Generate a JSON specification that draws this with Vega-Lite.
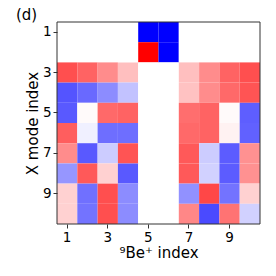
{
  "$schema": "https://vega.github.io/schema/vega-lite/v6.json",
  "autosize": "none",
  "padding": {"left": 57, "top": 22, "right": 16, "bottom": 52},
  "width": 203,
  "height": 202,
  "title": {"text": "(d)", "anchor": "start", "frame": "group", "dx": -41, "offset": -1, "fontSize": 15, "fontWeight": "normal", "font": "DejaVu Sans", "color": "#000"},
  "config": {
    "view": {"stroke": null},
    "font": "DejaVu Sans",
    "axis": {"labelFont": "DejaVu Sans", "titleFont": "DejaVu Sans", "labelFontSize": 13.5, "titleFontSize": 15, "titleFontWeight": "normal", "labelColor": "#000", "titleColor": "#000", "tickColor": "#333", "domain": false, "grid": false, "tickSize": 4, "labelPadding": 2, "labelAngle": 0}
  },
  "data": {"values": [
    {"b":1,"m":1,"v":0},{"b":2,"m":1,"v":0},{"b":3,"m":1,"v":0},{"b":4,"m":1,"v":0},{"b":5,"m":1,"v":-1},{"b":6,"m":1,"v":-1},{"b":7,"m":1,"v":0},{"b":8,"m":1,"v":0},{"b":9,"m":1,"v":0},{"b":10,"m":1,"v":0},
    {"b":1,"m":2,"v":0},{"b":2,"m":2,"v":0},{"b":3,"m":2,"v":0},{"b":4,"m":2,"v":0},{"b":5,"m":2,"v":1},{"b":6,"m":2,"v":-1},{"b":7,"m":2,"v":0},{"b":8,"m":2,"v":0},{"b":9,"m":2,"v":0},{"b":10,"m":2,"v":0},
    {"b":1,"m":3,"v":0.69},{"b":2,"m":3,"v":0.61},{"b":3,"m":3,"v":0.45},{"b":4,"m":3,"v":0.25},{"b":5,"m":3,"v":0},{"b":6,"m":3,"v":0},{"b":7,"m":3,"v":0.25},{"b":8,"m":3,"v":0.45},{"b":9,"m":3,"v":0.61},{"b":10,"m":3,"v":0.69},
    {"b":1,"m":4,"v":-0.67},{"b":2,"m":4,"v":-0.59},{"b":3,"m":4,"v":-0.45},{"b":4,"m":4,"v":-0.24},{"b":5,"m":4,"v":0},{"b":6,"m":4,"v":0},{"b":7,"m":4,"v":0.24},{"b":8,"m":4,"v":0.45},{"b":9,"m":4,"v":0.59},{"b":10,"m":4,"v":0.67},
    {"b":1,"m":5,"v":-0.65},{"b":2,"m":5,"v":0.02},{"b":3,"m":5,"v":0.59},{"b":4,"m":5,"v":0.61},{"b":5,"m":5,"v":0},{"b":6,"m":5,"v":0},{"b":7,"m":5,"v":0.57},{"b":8,"m":5,"v":0.61},{"b":9,"m":5,"v":0.02},{"b":10,"m":5,"v":-0.63},
    {"b":1,"m":6,"v":0.63},{"b":2,"m":6,"v":-0.06},{"b":3,"m":6,"v":-0.57},{"b":4,"m":6,"v":-0.57},{"b":5,"m":6,"v":0},{"b":6,"m":6,"v":0},{"b":7,"m":6,"v":0.59},{"b":8,"m":6,"v":0.61},{"b":9,"m":6,"v":0.05},{"b":10,"m":6,"v":-0.62},
    {"b":1,"m":7,"v":0.45},{"b":2,"m":7,"v":-0.65},{"b":3,"m":7,"v":-0.2},{"b":4,"m":7,"v":0.67},{"b":5,"m":7,"v":0},{"b":6,"m":7,"v":0},{"b":7,"m":7,"v":0.65},{"b":8,"m":7,"v":-0.2},{"b":9,"m":7,"v":-0.64},{"b":10,"m":7,"v":0.43},
    {"b":1,"m":8,"v":-0.41},{"b":2,"m":8,"v":0.65},{"b":3,"m":8,"v":0.18},{"b":4,"m":8,"v":-0.65},{"b":5,"m":8,"v":0},{"b":6,"m":8,"v":0},{"b":7,"m":8,"v":0.65},{"b":8,"m":8,"v":-0.18},{"b":9,"m":8,"v":-0.64},{"b":10,"m":8,"v":0.43},
    {"b":1,"m":9,"v":0.18},{"b":2,"m":9,"v":-0.56},{"b":3,"m":9,"v":0.69},{"b":4,"m":9,"v":-0.45},{"b":5,"m":9,"v":0},{"b":6,"m":9,"v":0},{"b":7,"m":9,"v":-0.43},{"b":8,"m":9,"v":0.72},{"b":9,"m":9,"v":-0.55},{"b":10,"m":9,"v":0.18},
    {"b":1,"m":10,"v":0.18},{"b":2,"m":10,"v":-0.55},{"b":3,"m":10,"v":0.69},{"b":4,"m":10,"v":-0.45},{"b":5,"m":10,"v":0},{"b":6,"m":10,"v":0},{"b":7,"m":10,"v":0.47},{"b":8,"m":10,"v":-0.71},{"b":9,"m":10,"v":0.55},{"b":10,"m":10,"v":-0.18}
  ]},
  "layer": [
    {
      "mark": {"type": "rect"},
      "encoding": {
        "x": {"field": "b", "type": "ordinal", "scale": {"paddingInner": 0, "paddingOuter": 0}, "axis": {"values": [1,3,5,7,9], "title": "⁹Be⁺ index", "titlePadding": 2}},
        "y": {"field": "m", "type": "ordinal", "scale": {"paddingInner": 0, "paddingOuter": 0}, "axis": {"values": [1,3,5,7,9], "title": "X mode index", "titlePadding": 2}},
        "color": {"field": "v", "type": "quantitative", "scale": {"domain": [-1, 0, 1], "range": ["#0000ff", "#ffffff", "#ff0000"], "interpolate": "rgb"}, "legend": null}
      }
    },
    {
      "data": {"values": [{}]},
      "mark": {"type": "rect", "fill": null, "stroke": "#333", "strokeWidth": 1},
      "encoding": {}
    }
  ]
}
